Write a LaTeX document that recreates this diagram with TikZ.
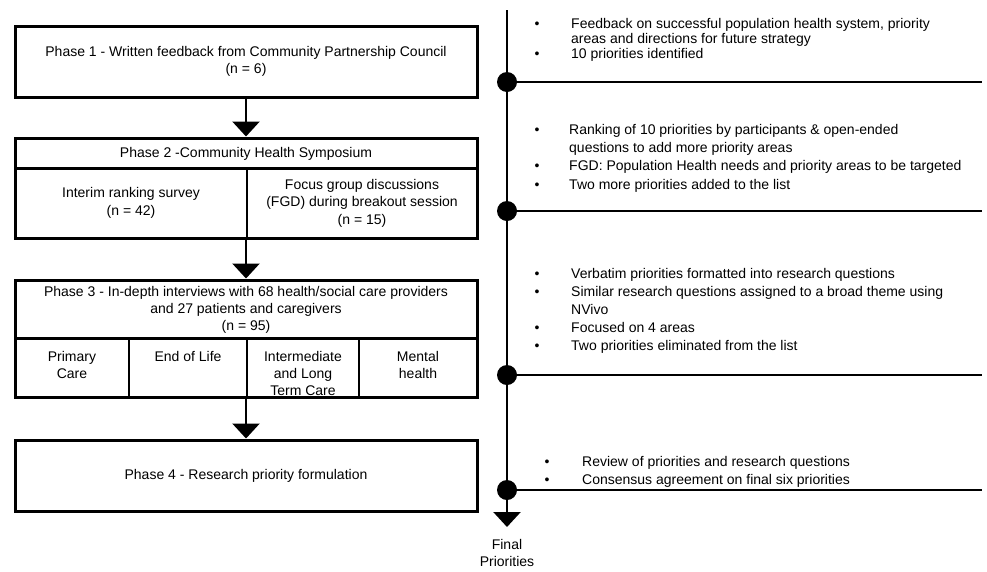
\documentclass[tikz,border=0pt]{standalone}
\usepackage{fontspec}
\setmainfont{Liberation Sans}
\usetikzlibrary{arrows.meta, positioning}

\newcommand{\noteitem}[1][36.5pt]{\makebox[#1][l]{\textbullet}}
\newcommand{\noteindent}[1][36.5pt]{\hspace*{#1}}

\begin{document}
\begin{tikzpicture}[x=1pt, y=-1pt, font=\fontsize{14}{17.5}\selectfont,
    phasebox/.style={draw, rectangle, line width=3pt, minimum width=462pt, text centered, align=center},
    cellbox/.style={draw, rectangle, line width=2pt, align=center},
    celltext/.style={inner sep=0pt, align=center, font=\fontsize{14}{17}\selectfont},
    flow/.style={-{Triangle[width=27pt, length=15pt]}, line width=2.5pt},
    tldot/.style={circle, fill, inner sep=0pt, minimum size=20pt},
    timeline/.style={line width=2.5pt},
    notes/.style={anchor=north west, inner sep=0pt, align=left}]
    \useasboundingbox (0,0) rectangle (987,571);

    % Phase blocks on the left
    \node (phase1) [phasebox, minimum height=71pt] at (246,61.5) {Phase 1 - Written feedback from Community Partnership Council\\(n = 6)};

    \node (p2head) [cellbox, minimum width=462pt, minimum height=30pt] at (246,153.5) {Phase 2 -Community Health Symposium};
    \node (p2left) [cellbox, minimum width=232pt, minimum height=70pt] at (131,203) {Interim ranking survey\\(n = 42)};
    \node (p2right) [cellbox, minimum width=230pt, minimum height=70pt] at (362,203) {Focus group discussions\\(FGD) during breakout session\\(n = 15)};
    \node (phase2) [phasebox, minimum height=100pt] at (246,188) {};

    \node (p3head) [cellbox, minimum width=462pt, minimum height=58pt, font=\fontsize{14}{17}\selectfont] at (246,309.5) {Phase 3 - In-depth interviews with 68 health/social care providers\\and 27 patients and caregivers\\(n = 95)};
    \node (p3c1) [cellbox, minimum width=114pt, minimum height=59pt] at (72,367.5) {};
    \node (p3c2) [cellbox, minimum width=118pt, minimum height=59pt] at (188,367.5) {};
    \node (p3c3) [cellbox, minimum width=112pt, minimum height=59pt] at (303,367.5) {};
    \node (p3c4) [cellbox, minimum width=118pt, minimum height=59pt] at (418,367.5) {};
    \node (p3t1) [celltext, below=14pt of p3c1.north] {Primary\\Care};
    \node (p3t2) [celltext, below=14pt of p3c2.north] {End of Life};
    \node (p3t3) [celltext, below=14pt of p3c3.north] {Intermediate\\and Long\\Term Care};
    \node (p3t4) [celltext, below=14pt of p3c4.north] {Mental\\health};
    \node (phase3) [phasebox, minimum height=117pt] at (246,338.5) {};

    \node (phase4) [phasebox, minimum height=71pt] at (246,475.5) {Phase 4 - Research priority formulation};

    % Arrows between the phases
    \draw[flow] (phase1) -- (phase2);
    \draw[flow] (phase2) -- (phase3);
    \draw[flow] (phase3) -- (phase4);

    % Timeline on the right
    \coordinate (tltop) at (507,10);
    \node (dot1) [tldot] at (507,82) {};
    \node (dot2) [tldot] at (507,211) {};
    \node (dot3) [tldot] at (507,375) {};
    \node (dot4) [tldot] at (507,490) {};
    \coordinate (tlend) at (507,527);
    \coordinate (edge1) at (982,82);
    \coordinate (edge2) at (982,211);
    \coordinate (edge3) at (982,375);
    \coordinate (edge4) at (982,490);
    \draw[timeline] (tltop) -- (dot1) -- (dot2) -- (dot3) -- (dot4);
    \draw[flow] (dot4) -- (tlend);
    \draw[timeline] (dot1) -- (edge1);
    \draw[timeline] (dot2) -- (edge2);
    \draw[timeline] (dot3) -- (edge3);
    \draw[timeline] (dot4) -- (edge4);
    \node (final) [below=9pt of tlend, align=center, font=\fontsize{14}{17}\selectfont] {Final\\Priorities};

    % Notes for each phase
    \node (notes1) [notes, font=\fontsize{14}{15.3}\selectfont] at (534.5,18) {\noteitem Feedback on successful population health system, priority\\\noteindent areas and directions for future strategy\\\noteitem 10 priorities identified};
    \node (notes2) [notes, font=\fontsize{14}{18.3}\selectfont] at (534.5,124) {\noteitem[34.5pt]Ranking of 10 priorities by participants \& open-ended\\\noteindent[34.5pt]questions to add more priority areas\\\noteitem[34.5pt]FGD: Population Health needs and priority areas to be targeted\\\noteitem[34.5pt]Two more priorities added to the list};
    \node (notes3) [notes, font=\fontsize{14}{18}\selectfont] at (534.5,268) {\noteitem Verbatim priorities formatted into research questions\\\noteitem Similar research questions assigned to a broad theme using\\\noteindent NVivo\\\noteitem Focused on 4 areas\\\noteitem Two priorities eliminated from the list};
    \node (notes4) [notes, font=\fontsize{14}{18}\selectfont] at (544.5,456) {\noteitem[37.5pt]Review of priorities and research questions\\\noteitem[37.5pt]Consensus agreement on final six priorities};
\end{tikzpicture}
\end{document}
